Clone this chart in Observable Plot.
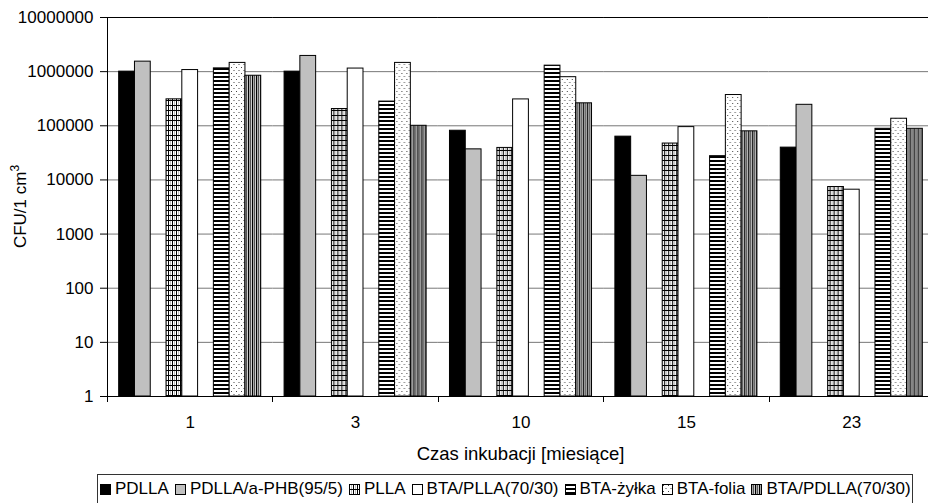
<!DOCTYPE html>
<html>
<head>
<meta charset="utf-8">
<script src="https://cdn.jsdelivr.net/npm/d3@7"></script>
<script src="https://cdn.jsdelivr.net/npm/@observablehq/plot@0.6"></script>
<style>
  html, body { margin: 0; padding: 0; background: #fff; overflow: hidden; }
  body { width: 928px; height: 503px; position: relative; font-family: "Liberation Sans", Arial, sans-serif; }
  #chart svg { display: block; }
  #legend {
    position: absolute; left: 97px; top: 474px; width: 816px; height: 40px;
    box-sizing: border-box; border: 1px solid #333; white-space: nowrap;
    font-size: 17px; line-height: 22px; padding: 3px 0 0 2px; color: #000;
  }
  #legend .item { display: inline-block; margin-right: 6px; }
  #legend svg { vertical-align: -1px; margin-right: 4px; }
</style>
</head>
<body>
<svg width="0" height="0" style="position:absolute">
  <defs>
    <pattern id="p-plla" patternUnits="userSpaceOnUse" width="4" height="5">
      <rect width="4" height="5" fill="#fff"/>
      <rect x="0" y="0" width="1" height="5" fill="#000"/>
      <rect x="2" y="0" width="1" height="5" fill="#bbb"/>
      <rect x="0" y="0" width="4" height="1" fill="#000"/>
    </pattern>
    <pattern id="p-zylka" patternUnits="userSpaceOnUse" width="4" height="4">
      <rect width="4" height="4" fill="#fff"/>
      <rect x="0" y="0" width="4" height="2" fill="#000"/>
    </pattern>
    <pattern id="p-folia" patternUnits="userSpaceOnUse" width="5" height="6">
      <rect width="5" height="6" fill="#fff"/>
      <rect x="1" y="1" width="1" height="1" fill="#444"/>
      <rect x="3.5" y="4" width="1" height="1" fill="#444"/>
    </pattern>
    <pattern id="p-btapdlla" patternUnits="userSpaceOnUse" width="4" height="4">
      <rect x="0" y="0" width="1" height="4" fill="#000"/>
      <rect x="1" y="0" width="1" height="4" fill="#aaa"/>
      <rect x="2" y="0" width="1" height="4" fill="#555"/>
      <rect x="3" y="0" width="1" height="4" fill="#ccc"/>
    </pattern>
  </defs>
</svg>
<div id="chart"></div>
<div id="legend"></div>
<script>
// ---- data ----
const months = ["1", "3", "10", "15", "23"];
const seriesNames = ["PDLLA", "PDLLA/a-PHB(95/5)", "PLLA", "BTA/PLLA(70/30)", "BTA-żyłka", "BTA-folia", "BTA/PDLLA(70/30)"];
// category slots within a month group (two empty slots as in the original)
const slots = ["PDLLA", "PDLLA/a-PHB(95/5)", "(empty 1)", "PLLA", "BTA/PLLA(70/30)", "(empty 2)", "BTA-żyłka", "BTA-folia", "BTA/PDLLA(70/30)"];
const valsPDLLA    = [1000000, 1000000, 81000, 63000, 39500];
const valsPHB      = [1530000, 1950000, 36700, 11900, 244000];
const valsPLLA     = [308000, 204000, 39000, 47000, 7400];
const valsBTAPLLA  = [1070000, 1140000, 307000, 94500, 6600];
const valsZylka    = [1150000, 280000, 1290000, 27500, 88000];
const valsFolia    = [1450000, 1450000, 790000, 370000, 135000];
const valsBTAPDLLA = [840000, 100000, 260000, 79000, 88000];
const yTicks = [1, 10, 100, 1000, 10000, 100000, 1000000, 10000000];
const yLabel = "CFU/1 cm";
const xLabel = "Czas inkubacji [miesiące]";

const seriesValues = [valsPDLLA, valsPHB, valsPLLA, valsBTAPLLA, valsZylka, valsFolia, valsBTAPDLLA];
const seriesFills = ["#000", "#c0c0c0", "url(#p-plla)", "#fff", "url(#p-zylka)", "url(#p-folia)", "url(#p-btapdlla)"];

const rows = [];
seriesNames.forEach((s, si) => months.forEach((m, mi) => rows.push({series: s, month: m, value: seriesValues[si][mi]})));

const W = 934, H = 472;
const chart = Plot.plot({
  width: W,
  height: H,
  marginLeft: 107,
  marginRight: 0,
  marginTop: 17,
  marginBottom: H - 396,
  style: {fontFamily: "'Liberation Sans', Arial, sans-serif", fontSize: "17px", color: "#000", background: "#fff", maxWidth: "none"},
  fx: {domain: months, padding: 0, round: false, label: null},
  x: {domain: slots, paddingInner: 0, paddingOuter: 0.74, round: false, axis: null},
  y: {type: "log", domain: [1, 10000000], label: null},
  color: {domain: seriesNames, range: seriesFills},
  marks: [
    Plot.gridY({ticks: yTicks, stroke: "#777", strokeOpacity: 1}),
    Plot.barY(rows, {fx: "month", x: "series", y1: 1, y2: "value", fill: "series", stroke: "#000", strokeWidth: 1}),
    Plot.ruleY([1, 10000000], {stroke: "#000", strokeWidth: 1}),
    Plot.axisY({ticks: yTicks, tickFormat: d => String(d), tickSize: 7, tickPadding: 7, label: null, stroke: "#000"}),
    Plot.axisFx({anchor: "bottom", tickSize: 0, tickPadding: 19, label: null})
  ]
});
chart.style.maxWidth = "none";
document.getElementById("chart").appendChild(chart);

// extra decorations from the plot's own scales
const fx = chart.scale("fx"), y = chart.scale("y");
const svg = d3.select(chart);
const yTop = y.apply(10000000), yBot = y.apply(1);
const g = svg.append("g").attr("stroke", "#000").attr("stroke-width", 1);
g.append("line").attr("x1", 107.5).attr("x2", 107.5).attr("y1", yTop).attr("y2", yBot);
months.forEach(m => {
  const x0 = Math.round(fx.apply(m)) + 0.5;
  g.append("line").attr("x1", x0).attr("x2", x0).attr("y1", yBot).attr("y2", yBot + 6);
});
const xMid = (fx.range[0] + fx.range[1]) / 2;
svg.append("text").attr("x", xMid).attr("y", 459.5).attr("text-anchor", "middle")
  .attr("fill", "#000").attr("font-size", "18.5px").text(xLabel);
const yl = svg.append("text").attr("transform", `translate(25.5,${(yTop + yBot) / 2}) rotate(-90)`)
  .attr("text-anchor", "middle").attr("fill", "#000");
yl.append("tspan").text(yLabel);
yl.append("tspan").attr("dy", -7).attr("font-size", "12px").text("3");

// legend
const legend = d3.select("#legend");
seriesNames.forEach((s, i) => {
  const it = legend.append("span").attr("class", "item");
  const sw = it.append("svg").attr("width", 11).attr("height", 11);
  sw.append("rect").attr("x", 0.5).attr("y", 0.5).attr("width", 10).attr("height", 10)
    .attr("fill", seriesFills[i]).attr("stroke", "#000");
  it.append("span").text(s);
});
</script>
</body>
</html>
